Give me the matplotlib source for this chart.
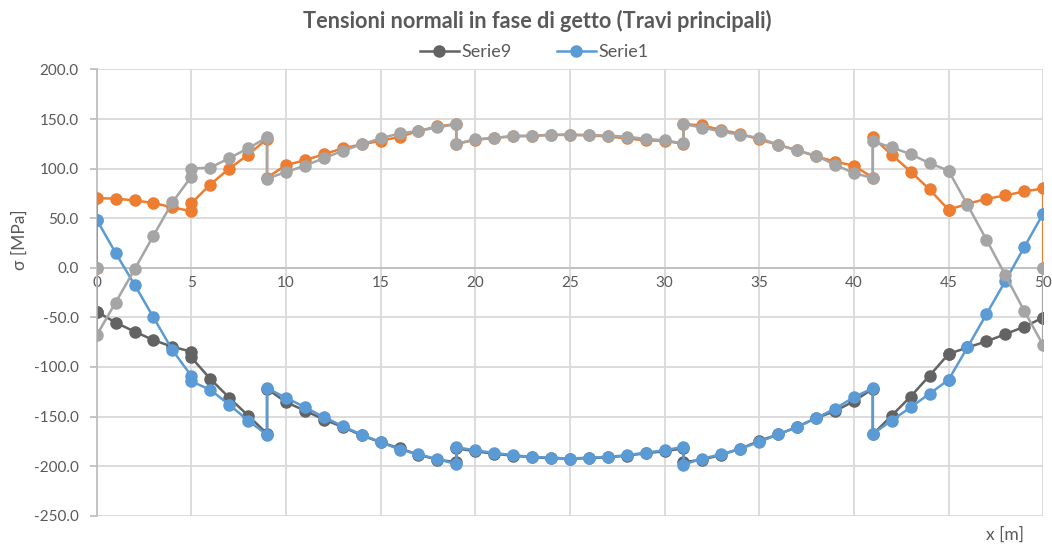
import matplotlib

matplotlib.use("Agg")

import matplotlib.pyplot as plt
from matplotlib.ticker import FormatStrFormatter, MultipleLocator


# ----------------------------
# DATA
# ----------------------------
X_STATIONS = [
    0, 0, 1, 2, 3, 4, 5, 5, 6, 7, 8, 9, 9,
    10, 11, 12, 13, 14, 15, 16, 17, 18, 19, 19,
    20, 21, 22, 23, 24, 25, 26, 27, 28, 29, 30, 31, 31,
    32, 33, 34, 35, 36, 37, 38, 39, 40, 41, 41,
    42, 43, 44, 45, 45, 46, 47, 48, 49, 50, 50,
]

ORANGE = [
    0.0, 70.3, 69.7, 68.0, 65.3, 61.0, 57.0, 65.0, 84.0, 100.0, 114.0, 130.0, 91.0,
    103.5, 108.5, 114.5, 120.5, 124.5, 128.0, 132.0, 138.0, 142.5, 145.0, 125.0,
    129.0, 131.0, 132.5, 133.0, 134.0, 134.0, 133.5, 132.5, 130.5, 128.5, 128.0, 125.0, 145.0,
    143.5, 139.0, 135.0, 129.5, 124.0, 118.5, 112.5, 107.0, 103.0, 91.0, 131.5,
    114.0, 97.0, 79.0, 58.5, 58.5, 64.5, 69.5, 73.0, 77.0, 80.0, 0.0,
]

GRAY = [
    0.0, -68.0, -35.0, -1.7, 32.5, 66.0, 92.0, 100.0, 101.0, 110.5, 120.5, 131.5, 90.0,
    96.5, 103.0, 110.5, 118.0, 124.5, 130.5, 135.5, 138.0, 141.5, 145.0, 125.0,
    129.5, 131.0, 133.0, 133.2, 134.2, 134.2, 134.0, 133.2, 132.2, 130.0, 128.5, 125.5, 145.0,
    141.3, 137.5, 134.0, 131.0, 124.0, 118.5, 113.0, 104.0, 95.5, 90.5, 127.5,
    121.5, 114.5, 105.5, 98.0, 98.0, 63.5, 28.5, -7.3, -43.5, -78.0, 0.0,
]

SERIE1 = [
    48.6, 48.6, 15.0, -17.0, -50.0, -83.0, -109.0, -114.5, -123.0, -138.0, -154.0, -168.5, -121.5,
    -131.0, -140.6, -150.6, -159.6, -168.3, -175.7, -183.3, -188.0, -193.0, -198.0, -181.0,
    -184.0, -186.7, -189.0, -190.7, -191.4, -192.4, -191.4, -190.7, -189.0, -186.4, -184.0, -180.5, -198.4,
    -192.4, -188.0, -182.4, -175.7, -168.0, -160.6, -151.6, -142.2, -130.5, -121.5, -167.5,
    -154.0, -140.6, -127.0, -113.0, -113.0, -80.3, -46.8, -13.4, 20.8, 54.6, 54.6,
]

SERIE9 = [
    -44.2, -44.2, -55.2, -64.3, -72.9, -79.6, -84.6, -90.4, -112.0, -131.0, -149.0, -167.3, -122.0,
    -135.5, -144.0, -153.0, -160.5, -169.0, -176.0, -182.0, -188.5, -193.5, -196.0, -182.0,
    -185.0, -187.5, -189.5, -191.0, -192.0, -192.5, -192.0, -191.0, -189.5, -187.0, -185.0, -182.0, -196.0,
    -193.5, -188.5, -182.5, -174.5, -168.0, -160.5, -151.5, -144.6, -134.5, -122.0, -168.0,
    -149.0, -129.8, -108.7, -87.0, -87.0, -80.3, -74.3, -66.9, -59.5, -50.2, -50.2,
]

TITLE = "Tensioni normali in fase di getto (Travi principali)"
X_LABEL = "x [m]"
Y_LABEL = "σ [MPa]"

# ----------------------------
# STYLE
# ----------------------------
FONT = ["Lato", "DejaVu Sans"]
TEXT_COLOR = "#595959"
GRID_COLOR = "#D9D9D9"
AXIS_COLOR = "#BFBFBF"

COLOR_SERIE1 = "#5B9BD5"
COLOR_ORANGE = "#ED7D31"
COLOR_GRAY = "#A5A5A5"
COLOR_SERIE9 = "#636363"

OUTPUT_FILE = "out.png"


def make_figure(output_file: str) -> None:
    plt.rcParams["font.family"] = FONT

    fig = plt.figure(figsize=(10.52, 5.47), dpi=100)
    ax = fig.add_axes([0.0919, 0.0572, 0.8997, 0.8158])

    line_kw = dict(marker="o", markersize=8, linewidth=1.8)
    ax.plot(X_STATIONS, SERIE9, color=COLOR_SERIE9, label="Serie9", zorder=3, **line_kw)
    ax.plot(X_STATIONS, ORANGE, color=COLOR_ORANGE, zorder=4, **line_kw)
    ax.plot(X_STATIONS, SERIE1, color=COLOR_SERIE1, label="Serie1", zorder=5, **line_kw)
    ax.plot(X_STATIONS, GRAY, color=COLOR_GRAY, zorder=6, **line_kw)

    ax.set_xlim(0, 50)
    ax.set_ylim(-250, 200)
    ax.xaxis.set_major_locator(MultipleLocator(5))
    ax.yaxis.set_major_locator(MultipleLocator(50))
    ax.yaxis.set_major_formatter(FormatStrFormatter("%.1f"))

    ax.grid(True, color=GRID_COLOR, linewidth=1.3, zorder=0)
    ax.set_axisbelow(True)

    for side in ["top", "right"]:
        ax.spines[side].set_visible(False)
    ax.spines["bottom"].set_position(("data", 0))
    ax.spines["bottom"].set_color(AXIS_COLOR)
    ax.spines["bottom"].set_linewidth(1.3)
    ax.spines["left"].set_color(AXIS_COLOR)
    ax.spines["left"].set_linewidth(1.3)

    ax.tick_params(axis="x", length=0, pad=6, labelsize=11, labelcolor=TEXT_COLOR)
    ax.tick_params(axis="y", length=5, width=1.3, color=AXIS_COLOR, pad=8,
                   labelsize=11, labelcolor=TEXT_COLOR)

    fig.text(537 / 1052, 1 - 21 / 547, TITLE, ha="center", va="center",
             fontsize=15.6, fontweight="bold", color=TEXT_COLOR)
    fig.text(20 / 1052, 1 - 240 / 547, Y_LABEL, ha="center", va="center",
             rotation=90, fontsize=12.5, color=TEXT_COLOR)
    fig.text(1005 / 1052, 1 - 535 / 547, X_LABEL, ha="center", va="center",
             fontsize=12.5, color=TEXT_COLOR)

    handles, labels = ax.get_legend_handles_labels()
    leg = fig.legend(handles, labels, loc="center", bbox_to_anchor=(534 / 1052, 1 - 52 / 547),
                     ncol=2, frameon=False, fontsize=13, handlelength=2.16,
                     handletextpad=0.15, columnspacing=2.5)
    for text in leg.get_texts():
        text.set_color(TEXT_COLOR)

    fig.savefig(output_file, dpi=100)
    plt.close(fig)


def main() -> None:
    make_figure(OUTPUT_FILE)


if __name__ == "__main__":
    main()
